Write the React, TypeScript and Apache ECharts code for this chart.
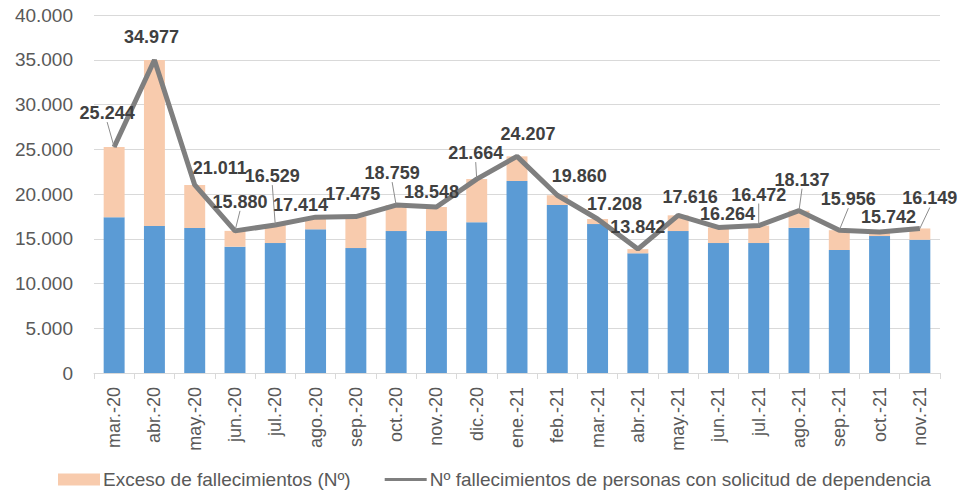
import React, { useEffect, useRef } from "react";
import * as echarts from "echarts";

const categories = [
  "mar.-20", "abr.-20", "may.-20", "jun.-20", "jul.-20", "ago.-20", "sep.-20",
  "oct.-20", "nov.-20", "dic.-20", "ene.-21", "feb.-21", "mar.-21", "abr.-21",
  "may.-21", "jun.-21", "jul.-21", "ago.-21", "sep.-21", "oct.-21", "nov.-21",
];

// Base (blue) part of each bar
const baseDeaths = [
  17390, 16420, 16200, 14110, 14520, 16050, 13960, 15860, 15860, 16830, 21450,
  18770, 16640, 13370, 15860, 14520, 14520, 16230, 13740, 15300, 14890,
];

// Excess deaths (peach part of each bar)
const excessDeaths = [
  7854, 18557, 4811, 1770, 2009, 1364, 3515, 2899, 2688, 4834, 2757,
  1090, 568, 472, 1756, 1744, 1952, 1907, 2216, 442, 1259,
];

// Nº fallecimientos de personas con solicitud de dependencia (line)
const totalDeaths = [
  25244, 34977, 21011, 15880, 16529, 17414, 17475, 18759, 18548, 21664, 24207,
  19860, 17208, 13842, 17616, 16264, 16472, 18137, 15956, 15742, 16149,
];

const yTicks = [0, 5000, 10000, 15000, 20000, 25000, 30000, 35000, 40000];

// Label placement (style only)
const labelShift: [number, number][] = [
  [-7, -34], [-3, -23], [25, -17], [5, -29], [-3, -49], [-15, -12], [-3, -23],
  [-4, -32], [-5, -15], [-1, -26], [11, -22], [22, -19], [17, -15], [0, -22],
  [12, -18], [9, -13], [0, -31], [3, -31], [9, -31], [9, -15], [10, -30],
];
const leaderIdx = [0, 3, 4, 7, 9, 16, 17, 18, 20];

const fmt = (v: number) =>
  Math.round(v).toString().replace(/\B(?=(\d{3})+(?!\d))/g, ".");

export default function App() {
  const ref = useRef<HTMLDivElement>(null);
  useEffect(() => {
    if (!ref.current) return;
    const chart = echarts.init(ref.current, null, { renderer: "svg" });
    const font = "'Liberation Sans', Arial, sans-serif";
    chart.setOption({
      animation: false,
      backgroundColor: "#ffffff",
      textStyle: { fontFamily: font },
      grid: { left: 94, right: 38, top: 15, bottom: 118, containLabel: false },
      legend: {
        data: [
          { name: "Exceso de fallecimientos (Nº)", icon: "rect" },
          {
            name: "Nº fallecimientos de personas con solicitud de dependencia",
            icon: "path://M0,5 L40,5 L40,8 L0,8 Z",
          },
        ],
        left: 53,
        top: 465,
        itemGap: 34,
        itemWidth: 42,
        itemHeight: 12,
        textStyle: { fontSize: 19, color: "#595959", fontFamily: font, padding: [0, 0, 0, -2] },
      },
      xAxis: {
        type: "category",
        data: categories,
        boundaryGap: true,
        axisLine: { show: true, lineStyle: { color: "#D9D9D9", width: 1 } },
        axisTick: { show: true, alignWithLabel: false, length: 6, lineStyle: { color: "#D9D9D9" } },
        axisLabel: {
          rotate: 90,
          interval: 0,
          margin: 14,
          fontSize: 18,
          color: "#595959",
          fontFamily: font,
        },
      },
      yAxis: {
        type: "value",
        min: yTicks[0],
        max: yTicks[yTicks.length - 1],
        interval: 5000,
        axisLine: { show: false },
        axisTick: { show: false },
        splitLine: { lineStyle: { color: "#D9D9D9", width: 1 } },
        axisLabel: {
          margin: 21,
          fontSize: 19,
          color: "#595959",
          fontFamily: font,
          formatter: (v: number) => fmt(v),
        },
      },
      series: [
        {
          name: "Base",
          type: "bar",
          stack: "total",
          barWidth: "52%",
          data: baseDeaths,
          itemStyle: { color: "#5B9BD5" },
          emphasis: { disabled: true },
        },
        {
          name: "Exceso de fallecimientos (Nº)",
          type: "bar",
          stack: "total",
          barWidth: "52%",
          data: excessDeaths,
          itemStyle: { color: "#F8CBAD" },
          emphasis: { disabled: true },
        },
        {
          name: "Nº fallecimientos de personas con solicitud de dependencia",
          type: "line",
          data: totalDeaths.map((v, i) => ({
            value: v,
            labelLine: { show: leaderIdx.includes(i) },
          })),
          symbol: "circle",
          symbolSize: 1,
          showSymbol: true,
          lineStyle: { color: "#7F7F7F", width: 5 },
          itemStyle: { color: "#7F7F7F" },
          z: 5,
          label: {
            show: true,
            position: "inside",
            fontSize: 18,
            fontWeight: "bold",
            color: "#404040",
            fontFamily: font,
            formatter: (p: any) => fmt(p.value),
          },
          labelLine: {
            show: true,
            length2: 0,
            lineStyle: { color: "#8C8C8C", width: 1 },
          },
          labelLayout: (p: any) => {
            const s = labelShift[p.dataIndex] || [0, 0];
            return { dx: s[0], dy: s[1] };
          },
        },
      ],
    });
    return () => chart.dispose();
  }, []);
  return (
    <div
      ref={ref}
      style={{ position: "absolute", left: 0, top: 0, width: 978, height: 491 }}
    />
  );
}
